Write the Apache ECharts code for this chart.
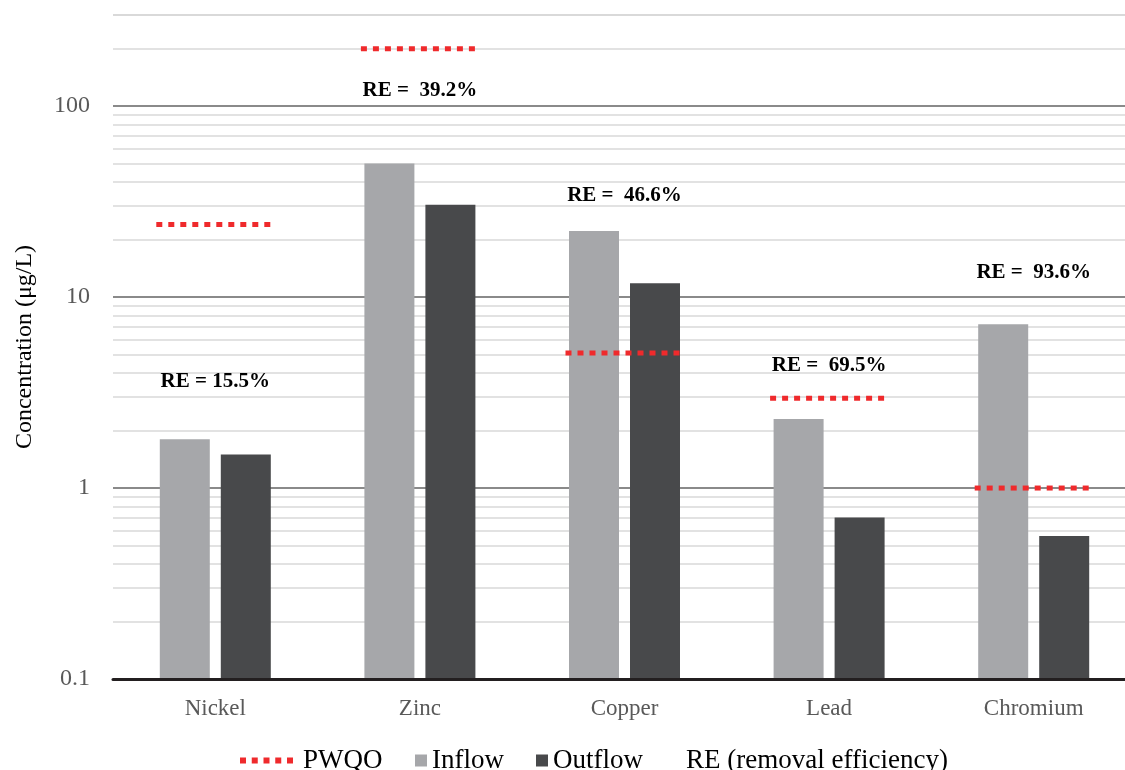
<!DOCTYPE html>
<html>
<head>
<meta charset="utf-8">
<script src="https://cdn.jsdelivr.net/npm/echarts@6/dist/echarts.min.js"></script>
<style>
  html, body { margin: 0; padding: 0; background: #fff; overflow: hidden; }
  #chart { width: 1136px; height: 770px; }
</style>
</head>
<body>
<div id="chart"></div>
<script>
const metals = ["Nickel", "Zinc", "Copper", "Lead", "Chromium"];
const inflow = [1.8, 50, 22.2, 2.3, 7.2];
const outflow = [1.5, 30.4, 11.8, 0.7, 0.56];
const pwqo = [24, 200, 5.1, 2.95, 1];
const reText = ["RE = 15.5%", "RE =  39.2%", "RE =  46.6%", "RE =  69.5%", "RE =  93.6%"];
// where each RE label sits, in concentration units
const reAnchor = [3.6, 121, 34, 4.4, 13.4];

const serif = "Liberation Serif";
const axisMin = 0.1;
const minorSteps = [2, 3, 4, 5, 6, 7, 8, 9];
const minorLines = [0.1, 1, 10, 100]
  .flatMap((d) => minorSteps.map((s) => +(d * s).toPrecision(3)))
  .filter((v) => v <= 300);

// plot runs a little past the right edge of the window, like the original
const chart = echarts.init(document.getElementById("chart"));

// bars on a log axis start at 1 in echarts, so draw them from the axis floor
function barRenderer(shift, color) {
  return (params, api) => {
    const top = api.coord([api.value(0), api.value(1)]);
    const base = api.coord([api.value(0), axisMin]);
    return {
      type: "rect",
      shape: { x: top[0] + shift - 25, y: top[1], width: 50, height: base[1] - top[1] },
      style: { fill: color },
    };
  };
}

const legendText = { fontFamily: serif, fontSize: 27, color: "#000" };

chart.setOption({
  animation: false,
  grid: { left: 113, right: 0, top: 15, bottom: 91 },
  legend: [
    {
      left: 240, top: 747, padding: 0,
      itemWidth: 53, itemHeight: 6,
      textStyle: { ...legendText, padding: [0, 0, 0, 5] },
      data: [{
        name: "PWQO",
        icon: "path://M0 0h6v6h-6zM11.75 0h6v6h-6zM23.5 0h6v6h-6zM35.25 0h6v6h-6zM47 0h6v6h-6z",
        itemStyle: { color: "#ef2a2c" },
      }],
    },
    {
      left: 415, top: 747, padding: 0,
      itemWidth: 12, itemHeight: 12, itemGap: 32,
      textStyle: legendText,
      data: [
        { name: "Inflow", icon: "rect", itemStyle: { color: "#a6a7aa" } },
        { name: "Outflow", icon: "rect", itemStyle: { color: "#48494b" } },
      ],
    },
    {
      left: 680, top: 747, padding: 0,
      itemWidth: 1, itemHeight: 12,
      textStyle: legendText,
      data: [{ name: "RE (removal efficiency)", icon: "rect", itemStyle: { opacity: 0 } }],
    },
  ],
  xAxis: {
    type: "category",
    data: metals,
    axisLine: { lineStyle: { color: "#231f20", width: 3 } },
    axisTick: { show: false },
    axisLabel: { color: "#595959", fontFamily: serif, fontSize: 23, margin: 18 },
    z: 10,
  },
  yAxis: {
    type: "log",
    logBase: 10,
    min: axisMin,
    max: 300,
    name: "Concentration (μg/L)",
    nameLocation: "middle",
    nameGap: 76,
    nameTextStyle: { fontFamily: serif, fontSize: 24, color: "#000" },
    axisLine: { show: false },
    axisTick: { show: false },
    axisLabel: {
      color: "#595959", fontFamily: serif, fontSize: 24, margin: 23,
      showMaxLabel: false,
      formatter: (v) => String(v),
    },
    splitLine: {
      lineStyle: { color: ["#8a8a8a", "#8a8a8a", "#8a8a8a", "#8a8a8a", "#d9d9d9"], width: 2 },
    },
  },
  series: [
    {
      name: "Inflow",
      type: "custom",
      z: 2,
      itemStyle: { color: "#a6a7aa" },
      data: inflow.map((v, i) => [i, v]),
      renderItem: barRenderer(-30.5, "#a6a7aa"),
      markLine: {
        silent: true,
        z: 1,
        symbol: ["none", "none"],
        label: { show: false },
        lineStyle: { type: "solid", color: "#d9d9d9", width: 1.5 },
        data: minorLines.map((v) => ({ yAxis: v })),
      },
    },
    {
      name: "Outflow",
      type: "custom",
      z: 2,
      itemStyle: { color: "#48494b" },
      data: outflow.map((v, i) => [i, v]),
      renderItem: barRenderer(30.5, "#48494b"),
    },
    {
      name: "PWQO",
      type: "custom",
      z: 5,
      itemStyle: { color: "#ef2a2c" },
      data: pwqo.map((v, i) => [i, v]),
      renderItem: (params, api) => {
        const c = api.coord([api.value(0), api.value(1)]);
        const half = 57;
        return {
          type: "line",
          shape: { x1: c[0] - 2 - half, y1: c[1], x2: c[0] - 2 + half, y2: c[1] },
          style: { stroke: "#ef2a2c", lineWidth: 5, lineDash: [6, 6] },
        };
      },
    },
    {
      name: "RE (removal efficiency)",
      type: "scatter",
      z: 6,
      symbolSize: 1,
      itemStyle: { color: "#ffffff", opacity: 0.01 },
      data: reAnchor.map((v, i) => [i, v]),
      label: {
        show: true,
        position: "inside",
        fontFamily: serif,
        fontSize: 21,
        fontWeight: "bold",
        color: "#000000",
        opacity: 1,
        textBorderWidth: 0,
        formatter: (p) => reText[p.dataIndex],
      },
    },
  ],
});
</script>
</body>
</html>
